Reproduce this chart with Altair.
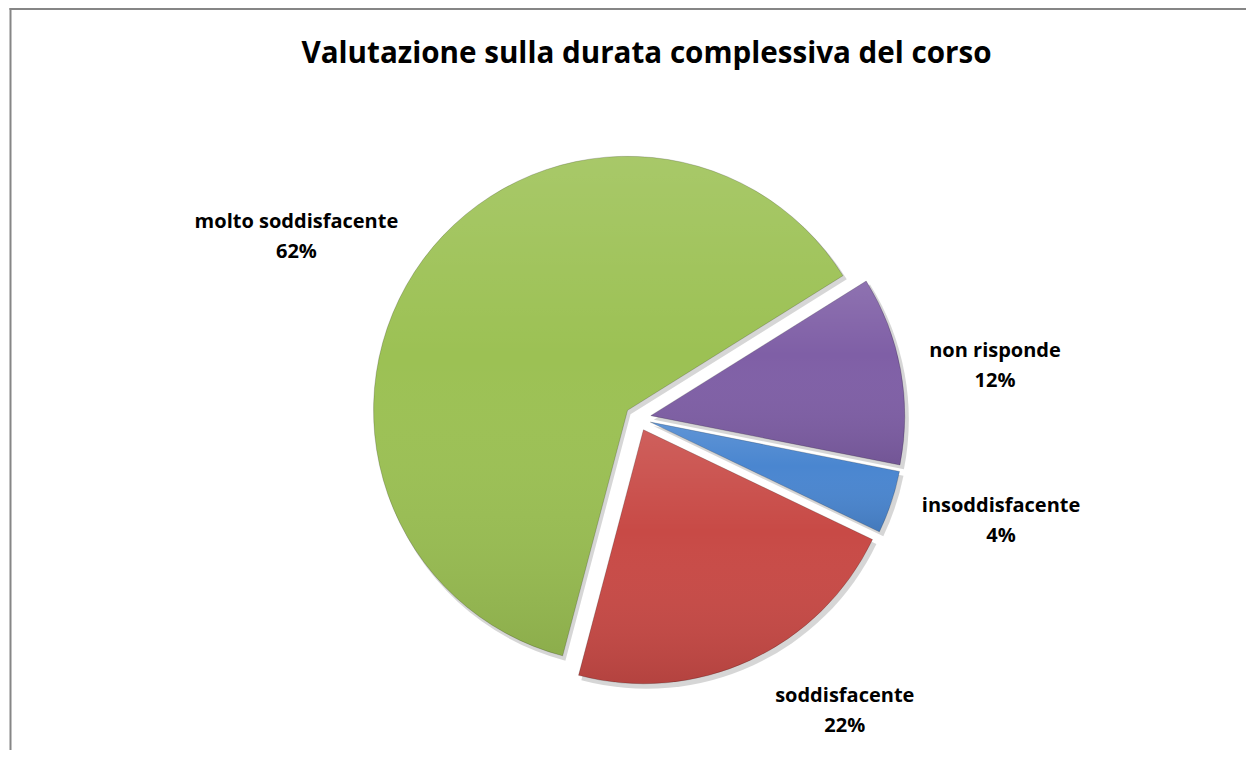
import altair as alt
import pandas as pd

# ---- data ----
categories = ["non risponde", "insoddisfacente", "soddisfacente", "molto soddisfacente"]
values = [12, 4, 22, 62]
colors = ["#7F5FA6", "#4A86D0", "#C84A46", "#9CC154"]
title_text = "Valutazione sulla durata complessiva del corso"

# ---- layout (not data) ----
W, H = 1238, 742
CX, CY = 630, 410          # pie centre in chart pixels
R = 254                    # pie radius
EXPLODE = 13               # explosion distance
START_DEG = 58             # angle of first slice edge (clockwise from 12 o'clock)
label_dist = [360.8, 377.3, 358.7, 386.5]
label_dtheta = [2.1, -2.6, -10.4, -8.5]
FONT = "Open Sans"
LINE_H = 30

df = pd.DataFrame({
    "cat": categories,
    "value": values,
    "order": list(range(len(categories))),
    "lr": label_dist,
    "ldt": label_dtheta,
})

start = f"({START_DEG}*PI/180)"
base = (
    alt.Chart(df)
    .transform_joinaggregate(total="sum(value)")
    .transform_window(cum="sum(value)", sort=[alt.SortField("order")], frame=[None, 0])
    .transform_calculate(
        t1=f"{start} + 2*PI*datum.cum/datum.total",
        t0=f"{start} + 2*PI*(datum.cum-datum.value)/datum.total",
    )
    .transform_calculate(mid="(datum.t0+datum.t1)/2")
    .transform_calculate(
        cx=f"{CX} + {EXPLODE}*sin(datum.mid)",
        cy=f"{CY} - {EXPLODE}*cos(datum.mid)",
        la="datum.mid + datum.ldt*PI/180",
        pct="round(100*datum.value/datum.total) + '%'",
    )
    .transform_calculate(
        sx="datum.cx + 3",
        sy="datum.cy + 4",
        lx=f"{CX} + datum.lr*sin(datum.la)",
        ly=f"{CY} - datum.lr*cos(datum.la)",
        label="datum.cat + '\\n' + datum.pct",
    )
)

shadow = base.mark_arc(outerRadius=R + 1, color="#000000", opacity=0.16).encode(
    x=alt.X("sx:Q", scale=None, axis=None),
    y=alt.Y("sy:Q", scale=None, axis=None),
    theta=alt.Theta("t0:Q", scale=None, stack=False),
    theta2="t1:Q",
)

arcs = base.mark_arc(outerRadius=R, stroke="#00000030", strokeWidth=1).encode(
    x=alt.X("cx:Q", scale=None, axis=None),
    y=alt.Y("cy:Q", scale=None, axis=None),
    theta=alt.Theta("t0:Q", scale=None, stack=False),
    theta2="t1:Q",
    color=alt.Color("cat:N", scale=alt.Scale(domain=categories, range=colors), legend=None),
)

shade = base.mark_arc(
    outerRadius=R,
    color=alt.Gradient(
        gradient="linear",
        stops=[
            alt.GradientStop(color="rgba(255,255,255,0.12)", offset=0),
            alt.GradientStop(color="rgba(255,255,255,0.0)", offset=0.4),
            alt.GradientStop(color="rgba(0,0,0,0.10)", offset=1),
        ],
        x1=0, x2=0, y1=0, y2=1,
    ),
).encode(
    x=alt.X("cx:Q", scale=None, axis=None),
    y=alt.Y("cy:Q", scale=None, axis=None),
    theta=alt.Theta("t0:Q", scale=None, stack=False),
    theta2="t1:Q",
)

labels = base.mark_text(
    font=FONT, fontSize=20, fontWeight="bold", color="#000000",
    align="center", baseline="middle", lineBreak="\n", lineHeight=LINE_H,
    dy=-LINE_H / 2,
).encode(
    x=alt.X("lx:Q", scale=None, axis=None),
    y=alt.Y("ly:Q", scale=None, axis=None),
    text="label:N",
)

one = pd.DataFrame({"t": [title_text]})
title = alt.Chart(one).mark_text(
    font=FONT, fontSize=29.6, fontWeight="bold", color="#000000",
    align="center", baseline="alphabetic",
).encode(x=alt.value(638.5), y=alt.value(55), text="t:N")

frame_left = alt.Chart(one).mark_rule(color="#868686", strokeWidth=2).encode(
    x=alt.value(2.5), y=alt.value(0), y2=alt.value(H)
)
frame_top = alt.Chart(one).mark_rule(color="#868686", strokeWidth=2).encode(
    x=alt.value(1.5), x2=alt.value(W), y=alt.value(1)
)

chart = alt.layer(shadow, arcs, shade, labels, title, frame_left, frame_top).properties(
    width=W, height=H, autosize=alt.AutoSizeParams(type="none"), padding=0,
).configure_view(stroke=None)

chart.save("out.html", embed_options={"renderer": "svg", "actions": False})
